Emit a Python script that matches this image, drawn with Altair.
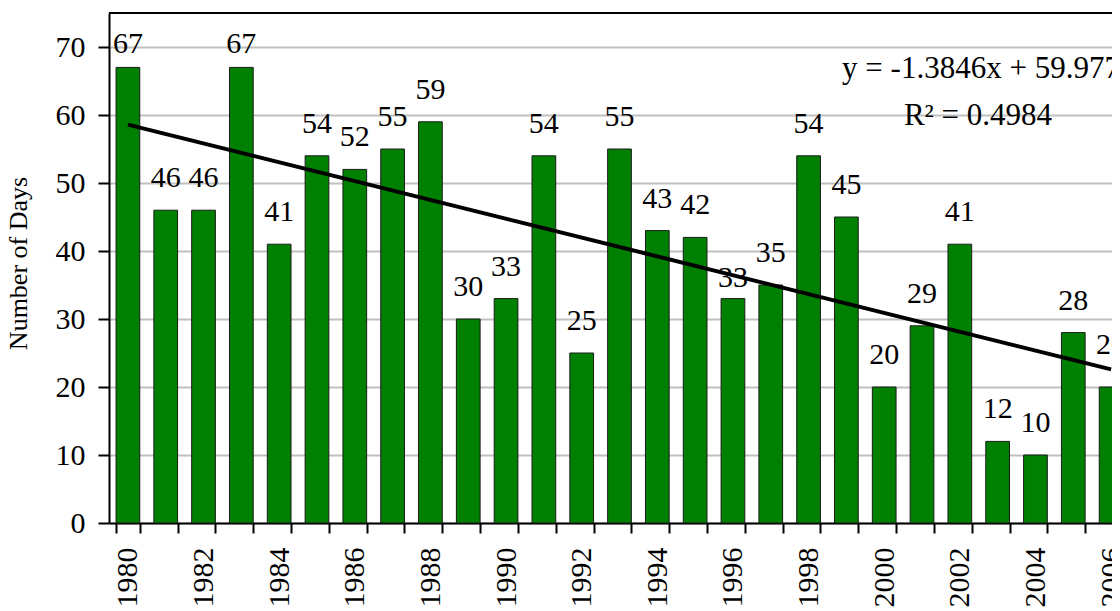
import altair as alt
import pandas as pd

# ---- data ----
years = list(range(1980, 2007))
days = [67, 46, 46, 67, 41, 54, 52, 55, 59, 30, 33, 54, 25, 55, 43, 42,
        33, 35, 54, 45, 20, 29, 41, 12, 10, 28, 20]
equation_text = "y = -1.3846x + 59.977"
r2_text = "R\u00b2 = 0.4984"
y_ticks = [0, 10, 20, 30, 40, 50, 60, 70]
y_max = 75

# label lift above bar top (px); default for all others
DEFAULT_LIFT = 23
label_lift = {1980: 14, 1983: 14, 1996: 12, 2006: 33}

FONT = "Liberation Serif"
df = pd.DataFrame({"year": years, "days": days})
df["lift"] = [label_lift.get(y, DEFAULT_LIFT) for y in years]

PLOT_W = 1003      # visible plot width (to window edge)
FULL_W = 1021      # full band range (plot continues past the window edge)
PLOT_H = 510

x_enc = alt.X(
    "year:O",
    scale=alt.Scale(paddingInner=0.373, paddingOuter=0.1865, range=[0, FULL_W]),
    axis=alt.Axis(
        title=None, labelAngle=-90, labelOverlap=False,
        labelExpr="datum.value % 2 == 0 ? datum.label : ''",
        tickBand="extent", tickSize=10, tickWidth=2, tickColor="black",
        domainColor="black", domainWidth=2, grid=False,
        labelFont=FONT, labelFontSize=30, labelColor="black", labelPadding=14,
    ),
)
y_enc = alt.Y(
    "days:Q",
    scale=alt.Scale(domain=[0, y_max], nice=False),
    axis=alt.Axis(
        values=y_ticks, title="Number of Days", grid=True,
        gridColor="#c0c0c0", gridWidth=2,
        tickSize=11, tickWidth=2, tickColor="black",
        domainColor="black", domainWidth=2,
        labelFont=FONT, labelFontSize=30, labelColor="black", labelPadding=13,
        titleFont=FONT, titleFontSize=26, titleFontWeight="normal", titleColor="black",
        titleX=-83, titleY=250, titleBaseline="alphabetic",
    ),
)

bars = alt.Chart(df).mark_bar(color="#008000", stroke="#1a1a1a", strokeWidth=1).encode(
    x=x_enc, y=y_enc
)

# top frame line
frame_top = alt.Chart(pd.DataFrame({"v": [y_max]})).mark_rule(
    color="black", strokeWidth=2
).encode(y="v:Q")

trend = (
    alt.Chart(df)
    .transform_regression("year", "days", extent=[1980, 2006])
    .mark_line(color="black", strokeWidth=4)
    .encode(x="year:O", y="days:Q")
)

label_layers = []
for lift in sorted(set(df["lift"])):
    label_layers.append(
        alt.Chart(df)
        .transform_filter(f"datum.lift == {lift}")
        .mark_text(font=FONT, fontSize=30, color="black", baseline="alphabetic",
                   align="center", dy=-lift)
        .encode(x="year:O", y="days:Q", text="days:Q")
    )

eq1 = alt.Chart(pd.DataFrame({"t": [equation_text]})).mark_text(
    font=FONT, fontSize=31, color="black", baseline="alphabetic", align="center"
).encode(x=alt.value(872), y=alt.value(65), text="t:N")
eq2 = alt.Chart(pd.DataFrame({"t": [r2_text]})).mark_text(
    font=FONT, fontSize=31, color="black", baseline="alphabetic", align="center"
).encode(x=alt.value(869), y=alt.value(112), text="t:N")

chart = (
    alt.layer(bars, frame_top, trend, *label_layers, eq1, eq2)
    .properties(
        width=PLOT_W, height=PLOT_H,
        autosize=alt.AutoSizeParams(type="none"),
        padding={"left": 101, "top": 5, "right": 0, "bottom": 88},
    )
    .configure_view(stroke=None)
)

chart.save("out.html", embed_options={"renderer": "svg", "actions": False})
